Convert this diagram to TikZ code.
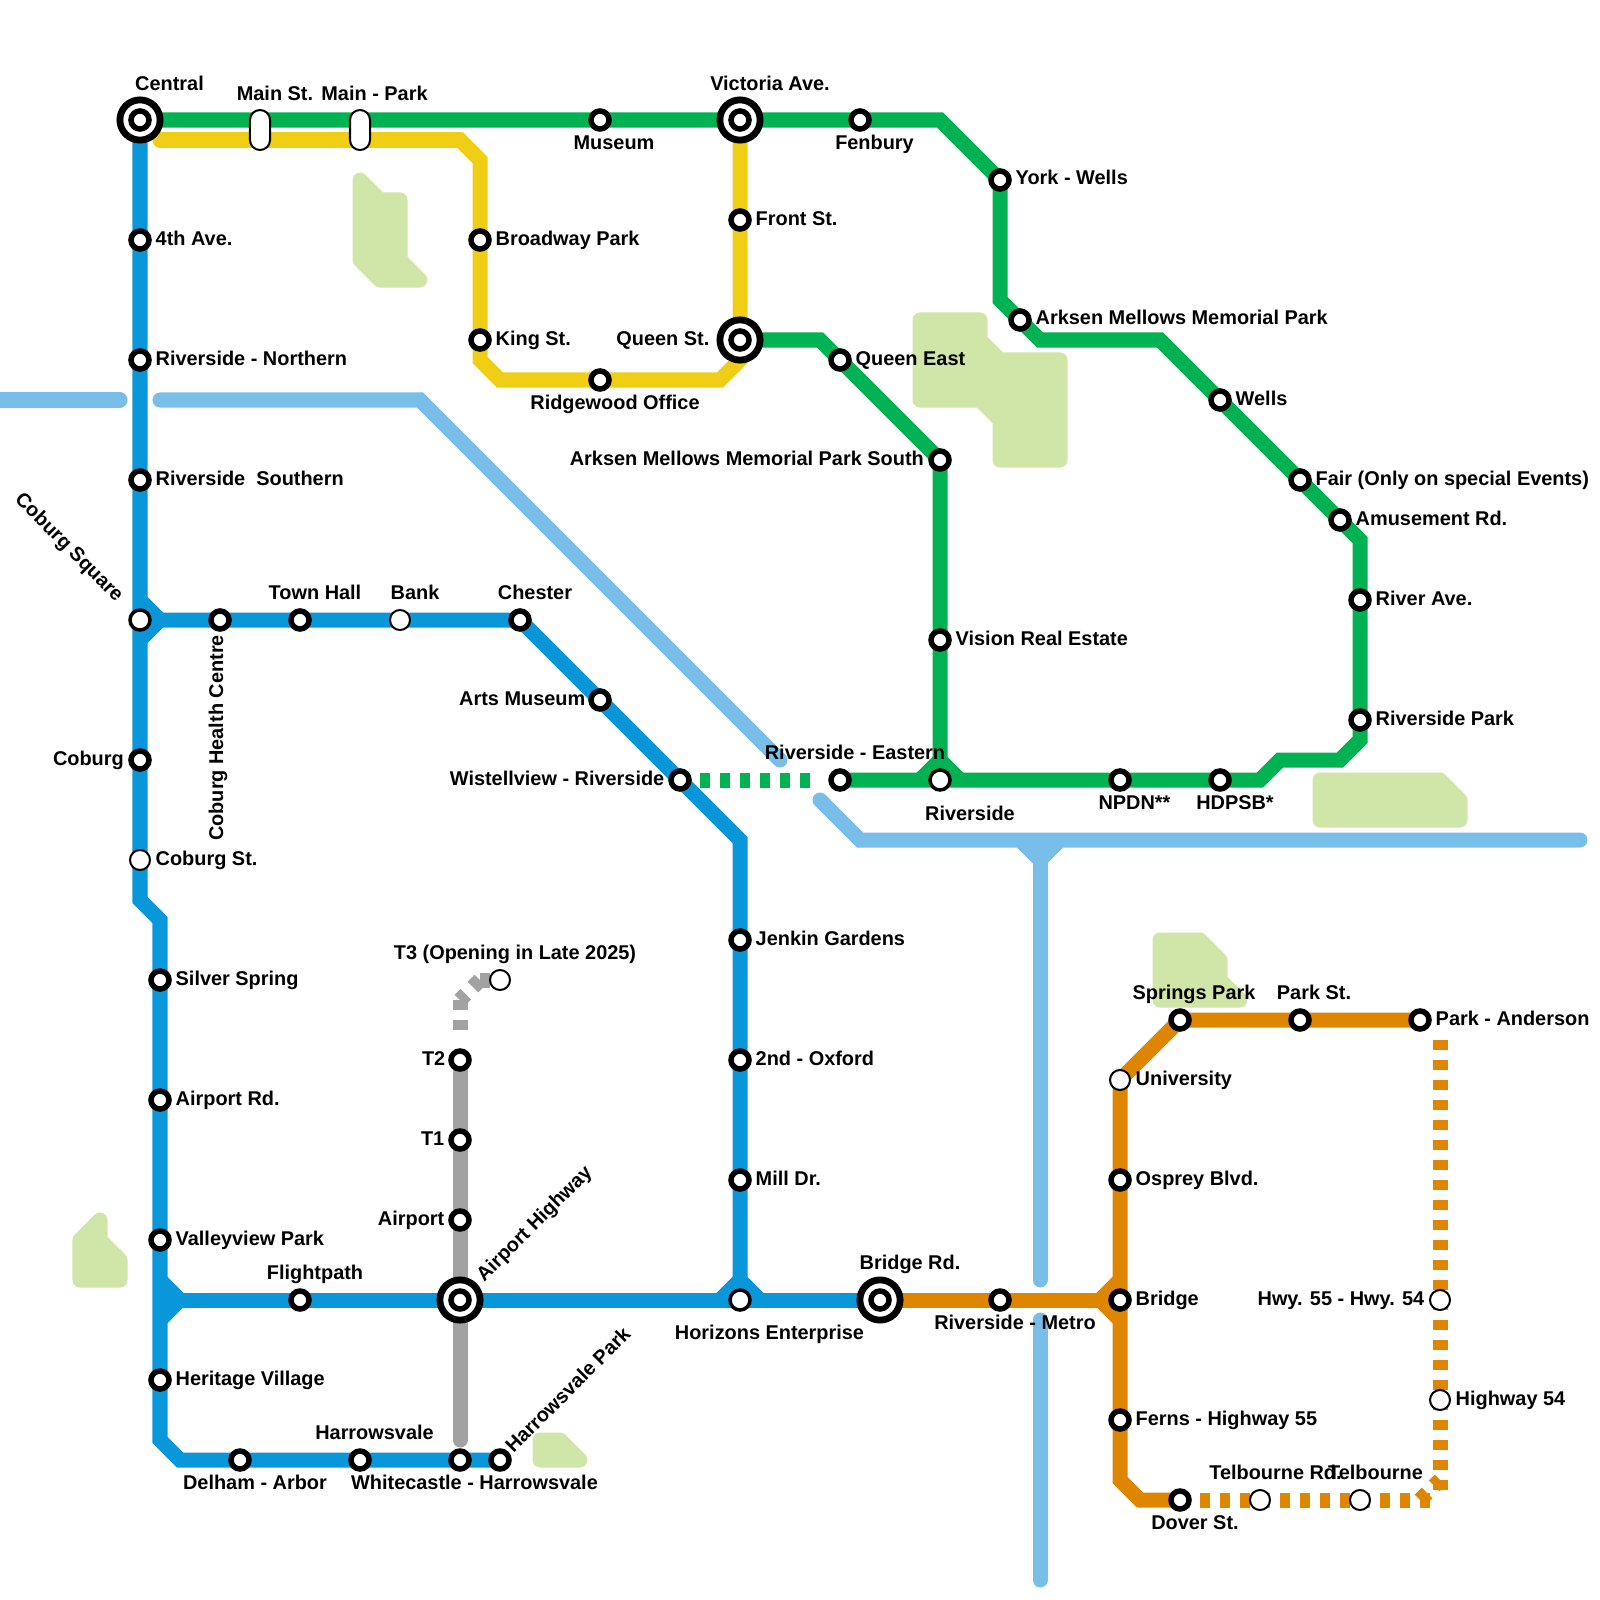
\documentclass[tikz,border=0pt]{standalone}
\usepackage{fontspec}
\setmainfont{Liberation Sans}
\usetikzlibrary{backgrounds}
\definecolor{line-green}{HTML}{00B251}
\definecolor{line-yellow}{HTML}{F0CE15}
\definecolor{line-blue}{HTML}{0A97D9}
\definecolor{line-orange}{HTML}{DF8600}
\definecolor{line-grey}{HTML}{A2A2A2}
\definecolor{river}{HTML}{79BDE9}
\definecolor{park}{HTML}{D0E5A8}
\tikzset{
  stn/.style={circle,draw=black,fill=white,line width=0.055cm,minimum size=0.18cm,inner sep=0pt},
  stnopen/.style={circle,draw=black,fill=white,line width=0.02cm,minimum size=0.2cm,inner sep=0pt},
  stnjoin/.style={stnopen,line width=0.035cm},
  hub/.style={circle,draw=black,fill=white,line width=0.068cm,minimum size=0.402cm,inner sep=0pt},
  capsule/.style={rectangle,rounded corners=0.1cm,draw=black,fill=white,line width=0.02cm,minimum width=0.2cm,minimum height=0.4cm,inner sep=0pt},
  lbl/.style={font=\fontsize{5.66pt}{6pt}\selectfont\bfseries,inner sep=0pt,text=black,text height=4.1pt,text depth=1.2pt},
  track/.style={line width=0.15cm,line cap=butt,line join=miter},
  trackdash/.style={track,dash pattern=on 0.1cm off 0.1cm},
  rivertrack/.style={line width=0.15cm,line cap=round,line join=miter,draw=river},
  parkland/.style={draw=park,fill=park,line width=0.15cm,line join=round}
}
\begin{document}
\begin{tikzpicture}[x=0.01cm,y=-0.01cm]
  \useasboundingbox (0,0) rectangle (1600,1600);
  % green
  \node[hub] (central) at (140,120) {};
  \node[stn] (central-in) at (140,120) {};
  \node[capsule] (mainst) at (260,130) {};
  \node[capsule] (mainpark) at (360,130) {};
  \node[stn] (museum) at (600,120) {};
  \node[hub] (victoria) at (740,120) {};
  \node[stn] (victoria-in) at (740,120) {};
  \node[stn] (fenbury) at (860,120) {};
  \node[stn] (york) at (1000,180) {};
  \node[stn] (arksen) at (1020,320) {};
  \node[stn] (wells) at (1220,400) {};
  \node[stn] (fair) at (1300,480) {};
  \node[stn] (amusement) at (1340,520) {};
  \node[stn] (riverave) at (1360,600) {};
  \node[stn] (riverpark) at (1360,720) {};
  \node[stn] (hdpsb) at (1220,780) {};
  \node[stn] (npdn) at (1120,780) {};
  \node[stnjoin] (riverside) at (940,780) {};
  \node[stn] (eastern) at (840,780) {};
  \node[hub] (queen) at (740,340) {};
  \node[stn] (queen-in) at (740,340) {};
  \node[stn] (queeneast) at (840,360) {};
  \node[stn] (arksensouth) at (940,460) {};
  \node[stn] (vision) at (940,640) {};
  % yellow
  \node[stn] (front) at (740,220) {};
  \node[stn] (broadway) at (480,240) {};
  \node[stn] (king) at (480,340) {};
  \node[stn] (ridgewood) at (600,380) {};
  % blue
  \node[stn] (fourth) at (140,240) {};
  \node[stn] (northern) at (140,360) {};
  \node[stn] (southern) at (140,480) {};
  \node[stnjoin] (coburgsq) at (140,620) {};
  \node[stn] (coburg) at (140,760) {};
  \node[stnopen] (coburgst) at (140,860) {};
  \node[stn] (silver) at (160,980) {};
  \node[stn] (airportrd) at (160,1100) {};
  \node[stn] (valleyview) at (160,1240) {};
  \node[stn] (heritage) at (160,1380) {};
  \node[stn] (delham) at (240,1460) {};
  \node[stn] (harrowsvale) at (360,1460) {};
  \node[stn] (whitecastle) at (460,1460) {};
  \node[stn] (harrowpark) at (500,1460) {};
  \node[stn] (health) at (220,620) {};
  \node[stn] (townhall) at (300,620) {};
  \node[stnopen] (bank) at (400,620) {};
  \node[stn] (chester) at (520,620) {};
  \node[stn] (artsmuseum) at (600,700) {};
  \node[stn] (wistell) at (680,780) {};
  \node[stn] (jenkin) at (740,940) {};
  \node[stn] (oxford) at (740,1060) {};
  \node[stn] (milldr) at (740,1180) {};
  \node[stnjoin] (horizons) at (740,1300) {};
  \node[stn] (flightpath) at (300,1300) {};
  \node[hub] (airporthwy) at (460,1300) {};
  \node[stn] (airporthwy-in) at (460,1300) {};
  \node[hub] (bridgerd) at (880,1300) {};
  \node[stn] (bridgerd-in) at (880,1300) {};
  % grey
  \node[stn] (tthree-two) at (460,1060) {};
  \node[stn] (tone) at (460,1140) {};
  \node[stn] (airport) at (460,1220) {};
  \node[stnopen] (tthree) at (500,980) {};
  % orange
  \node[stn] (metro) at (1000,1300) {};
  \node[stn] (bridge) at (1120,1300) {};
  \node[stn] (osprey) at (1120,1180) {};
  \node[stnopen] (university) at (1120,1080) {};
  \node[stn] (springs) at (1180,1020) {};
  \node[stn] (parkst) at (1300,1020) {};
  \node[stn] (anderson) at (1420,1020) {};
  \node[stn] (ferns) at (1120,1420) {};
  \node[stn] (dover) at (1180,1500) {};
  \node[stnopen] (telbrd) at (1260,1500) {};
  \node[stnopen] (telb) at (1360,1500) {};
  \node[stnopen] (hwyfive) at (1440,1300) {};
  \node[stnopen] (hwyfour) at (1440,1400) {};
  % bends
  \coordinate (gb1) at (940,120);
  \coordinate (gb2) at (1000,300);
  \coordinate (gb3) at (1040,340);
  \coordinate (gb4) at (1160,340);
  \coordinate (gb5) at (1360,540);
  \coordinate (gb6) at (1360,740);
  \coordinate (gb7) at (1340,760);
  \coordinate (gb8) at (1280,760);
  \coordinate (gb9) at (1260,780);
  \coordinate (gb10) at (820,340);
  \coordinate (gb11) at (920,780);
  \coordinate (gb12) at (940,760);
  \coordinate (gb13) at (960,780);
  \coordinate (gend) at (820,780);
  \coordinate (yb1) at (740,360);
  \coordinate (yb2) at (720,380);
  \coordinate (yb3) at (500,380);
  \coordinate (yb4) at (480,360);
  \coordinate (yb5) at (480,160);
  \coordinate (yb6) at (460,140);
  \coordinate (yb7) at (160,140);
  \coordinate (bb1) at (140,900);
  \coordinate (bb2) at (160,920);
  \coordinate (bb3) at (160,1440);
  \coordinate (bb4) at (180,1460);
  \coordinate (bb5) at (740,840);
  \coordinate (bb6) at (140,600);
  \coordinate (bb7) at (160,620);
  \coordinate (bb8) at (140,640);
  \coordinate (bb9) at (160,1280);
  \coordinate (bb10) at (180,1300);
  \coordinate (bb11) at (160,1320);
  \coordinate (bb12) at (720,1300);
  \coordinate (bb13) at (740,1280);
  \coordinate (bb14) at (760,1300);
  \coordinate (bb15) at (160,1300);
  \coordinate (ab1) at (460,1440);
  \coordinate (ab2) at (460,1040);
  \coordinate (ab3) at (460,1000);
  \coordinate (ab4) at (480,980);
  \coordinate (ob1) at (1120,1480);
  \coordinate (ob2) at (1140,1500);
  \coordinate (ob3) at (1120,1280);
  \coordinate (ob4) at (1100,1300);
  \coordinate (ob5) at (1120,1320);
  \coordinate (ob6) at (1430,1500);
  \coordinate (ob7) at (1420,1500);
  \coordinate (ob8) at (1440,1480);
  \coordinate (ob9) at (1440,1490);
  \coordinate (ob10) at (1440,1040);
  \begin{scope}[on background layer]
    % parks
    \filldraw[parkland] (360,180)--(380,200)--(400,200)--(400,260)--(420,280)--(380,280)--(360,260)--cycle;
    \filldraw[parkland] (920,320)--(980,320)--(980,340)--(1000,360)--(1060,360)--(1060,460)--(1000,460)--(1000,420)--(980,400)--(920,400)--cycle;
    \filldraw[parkland] (1320,780)--(1440,780)--(1460,800)--(1460,820)--(1320,820)--cycle;
    \filldraw[parkland] (80,1240)--(100,1220)--(100,1240)--(120,1260)--(120,1280)--(80,1280)--cycle;
    \filldraw[parkland] (540,1440)--(560,1440)--(580,1460)--(540,1460)--cycle;
    \filldraw[parkland] (1160,940)--(1200,940)--(1220,960)--(1220,980)--(1240,1000)--(1160,1000)--cycle;
    % water
    \draw[rivertrack] (0,400)--(120,400);
    \draw[rivertrack] (160,400)--(420,400)--(780,760);
    \draw[rivertrack] (820,800)--(860,840)--(1580,840);
    \draw[rivertrack,line cap=butt] (1020,840)--(1040,860)--(1060,840);
    \draw[rivertrack] (1040,848)--(1040,1280);
    \draw[rivertrack] (1040,1320)--(1040,1580);
    % lines
    \draw[track,draw=line-grey,line cap=round] (airporthwy.center)--(ab1);
    \draw[track,draw=line-grey] (tthree-two.center)--(airporthwy.center);
    \draw[trackdash,draw=line-grey] (ab4)--(tthree.center);
    \draw[trackdash,draw=line-grey] (ab4)--(ab3);
    \draw[trackdash,draw=line-grey] (ab3)--(ab2);
    \draw[track,draw=line-yellow,line cap=round] (yb7)--(yb6);
    \draw[track,draw=line-yellow] (yb7)--(yb6)--(yb5)--(yb4)--(yb3)--(yb2)--(yb1)--(queen.center)--(victoria.center);
    \draw[track,draw=line-green] (central.center)--(gb1)--(york.center)--(gb2)--(gb3)--(gb4)--(gb5)--(gb6)--(gb7)--(gb8)--(gb9)--(eastern.center);
    \draw[track,draw=line-green] (queen.center)--(gb10)--(arksensouth.center)--(riverside.center);
    \draw[track,draw=line-green] (gb11)--(gb12)--(gb13);
    \draw[trackdash,draw=line-green] (wistell.center)--(gend);
    \draw[track,draw=line-blue] (central.center)--(bb1)--(bb2)--(bb3)--(bb4)--(harrowpark.center);
    \draw[track,draw=line-blue] (coburgsq.center)--(chester.center)--(bb5)--(horizons.center);
    \draw[track,draw=line-blue] (bb15)--(bridgerd.center);
    \draw[track,draw=line-blue] (bb6)--(bb7)--(bb8);
    \draw[track,draw=line-blue] (bb9)--(bb10)--(bb11);
    \draw[track,draw=line-blue] (bb12)--(bb13)--(bb14);
    \draw[track,draw=line-orange] (bridgerd.center)--(bridge.center);
    \draw[track,draw=line-orange] (anderson.center)--(springs.center)--(university.center)--(ob1)--(ob2)--(dover.center);
    \draw[track,draw=line-orange] (ob3)--(ob4)--(ob5);
    \draw[trackdash,draw=line-orange] (dover.center)--(ob6);
    \draw[trackdash,draw=line-orange] (ob7)--(ob8);
    \draw[trackdash,draw=line-orange] (ob10)--(ob9);
  \end{scope}
  % labels
  \node[lbl] (l-central) at (169.5,85) {Central};
  \node[lbl] (l-mainst) at (275,95) {Main St.};
  \node[lbl] (l-mainpark) at (374.5,95) {Main - Park};
  \node[lbl] (l-museum) at (614,144) {Museum};
  \node[lbl] (l-victoria) at (770,85) {Victoria Ave.};
  \node[lbl] (l-fenbury) at (874.5,144) {Fenbury};
  \node[lbl,anchor=west] (l-york) at (1015,179) {York - Wells};
  \node[lbl,anchor=west] (l-front) at (755,220) {Front St.};
  \node[lbl,anchor=west] (l-fourth) at (155,240) {4th Ave.};
  \node[lbl,anchor=west] (l-broadway) at (495,240) {Broadway Park};
  \node[lbl,anchor=west] (l-king) at (495,340) {King St.};
  \node[lbl,anchor=east] (l-queen) at (710,340) {Queen St.};
  \node[lbl,anchor=west] (l-queeneast) at (855,360) {Queen East};
  \node[lbl,anchor=west] (l-arksen) at (1035,319) {Arksen Mellows Memorial Park};
  \node[lbl] (l-ridgewood) at (615,404) {Ridgewood Office};
  \node[lbl,anchor=west] (l-northern) at (155,360) {Riverside - Northern};
  \node[lbl,anchor=west] (l-wells) at (1235,400) {Wells};
  \node[lbl,anchor=west] (l-southern) at (155,480) {Riverside\ \ Southern};
  \node[lbl,anchor=east] (l-arksensouth) at (924.5,460) {Arksen Mellows Memorial Park South};
  \node[lbl,anchor=west] (l-fair) at (1315,480) {Fair (Only on special Events)};
  \node[lbl,anchor=west] (l-amusement) at (1355,520) {Amusement Rd.};
  \node[lbl,rotate=-45] (l-coburgsq) at (68.5,548) {Coburg Square};
  \node[lbl] (l-townhall) at (315,594) {Town Hall};
  \node[lbl] (l-bank) at (415,594) {Bank};
  \node[lbl] (l-chester) at (535,594) {Chester};
  \node[lbl,rotate=90] (l-health) at (218,738) {Coburg Health Centre};
  \node[lbl,anchor=west] (l-riverave) at (1375,600) {River Ave.};
  \node[lbl,anchor=west] (l-vision) at (955,640) {Vision Real Estate};
  \node[lbl,anchor=east] (l-artsmuseum) at (586,700) {Arts Museum};
  \node[lbl,anchor=west] (l-riverpark) at (1375,720) {Riverside Park};
  \node[lbl,anchor=east] (l-coburg) at (124.5,760) {Coburg};
  \node[lbl,anchor=east] (l-wistell) at (665,780) {Wistellview - Riverside};
  \node[lbl] (l-eastern) at (855,754) {Riverside - Eastern};
  \node[lbl] (l-riverside) at (970,815) {Riverside};
  \node[lbl] (l-npdn) at (1134.5,804) {NPDN**};
  \node[lbl] (l-hdpsb) at (1235,804) {HDPSB*};
  \node[lbl,anchor=west] (l-coburgst) at (155,860) {Coburg St.};
  \node[lbl,anchor=west] (l-jenkin) at (755,940) {Jenkin Gardens};
  \node[lbl] (l-tthree) at (515,954.5) {T3 (Opening in Late 2025)};
  \node[lbl,anchor=west] (l-silver) at (175,980) {Silver Spring};
  \node[lbl] (l-springs) at (1194,994) {Springs Park};
  \node[lbl] (l-parkst) at (1314,994) {Park St.};
  \node[lbl,anchor=west] (l-anderson) at (1435,1020) {Park - Anderson};
  \node[lbl,anchor=east] (l-ttwo) at (446,1060) {T2};
  \node[lbl,anchor=west] (l-oxford) at (755,1060) {2nd - Oxford};
  \node[lbl,anchor=west] (l-university) at (1135,1080) {University};
  \node[lbl,anchor=west] (l-airportrd) at (175,1100) {Airport Rd.};
  \node[lbl,anchor=east] (l-tone) at (445,1140) {T1};
  \node[lbl,anchor=west] (l-osprey) at (1135,1180) {Osprey Blvd.};
  \node[lbl,anchor=west] (l-milldr) at (755,1180) {Mill Dr.};
  \node[lbl,rotate=45] (l-airporthwy) at (535,1224.5) {Airport Highway};
  \node[lbl,anchor=east] (l-airport) at (445,1220) {Airport};
  \node[lbl,anchor=west] (l-valleyview) at (175,1240) {Valleyview Park};
  \node[lbl] (l-bridgerd) at (910,1264) {Bridge Rd.};
  \node[lbl] (l-flightpath) at (315,1274) {Flightpath};
  \node[lbl,anchor=west] (l-bridge) at (1135,1300) {Bridge};
  \node[lbl,anchor=east] (l-hwyfive) at (1425,1300) {Hwy. 55 - Hwy. 54};
  \node[lbl] (l-horizons) at (769.5,1334) {Horizons Enterprise};
  \node[lbl] (l-metro) at (1015,1324) {Riverside - Metro};
  \node[lbl,rotate=45] (l-harrowpark) at (569,1391) {Harrowsvale Park};
  \node[lbl,anchor=west] (l-heritage) at (175,1380) {Heritage Village};
  \node[lbl,anchor=west] (l-hwyfour) at (1455,1400) {Highway 54};
  \node[lbl,anchor=west] (l-ferns) at (1135,1420) {Ferns - Highway 55};
  \node[lbl] (l-harrowsvale) at (374.5,1434) {Harrowsvale};
  \node[lbl] (l-delham) at (255,1484) {Delham - Arbor};
  \node[lbl] (l-whitecastle) at (474.5,1484) {Whitecastle - Harrowsvale};
  \node[lbl] (l-telbrd) at (1275.5,1474) {Telbourne Rd.};
  \node[lbl] (l-telb) at (1375.5,1474) {Telbourne};
  \node[lbl] (l-dover) at (1195,1524) {Dover St.};
\end{tikzpicture}
\end{document}
